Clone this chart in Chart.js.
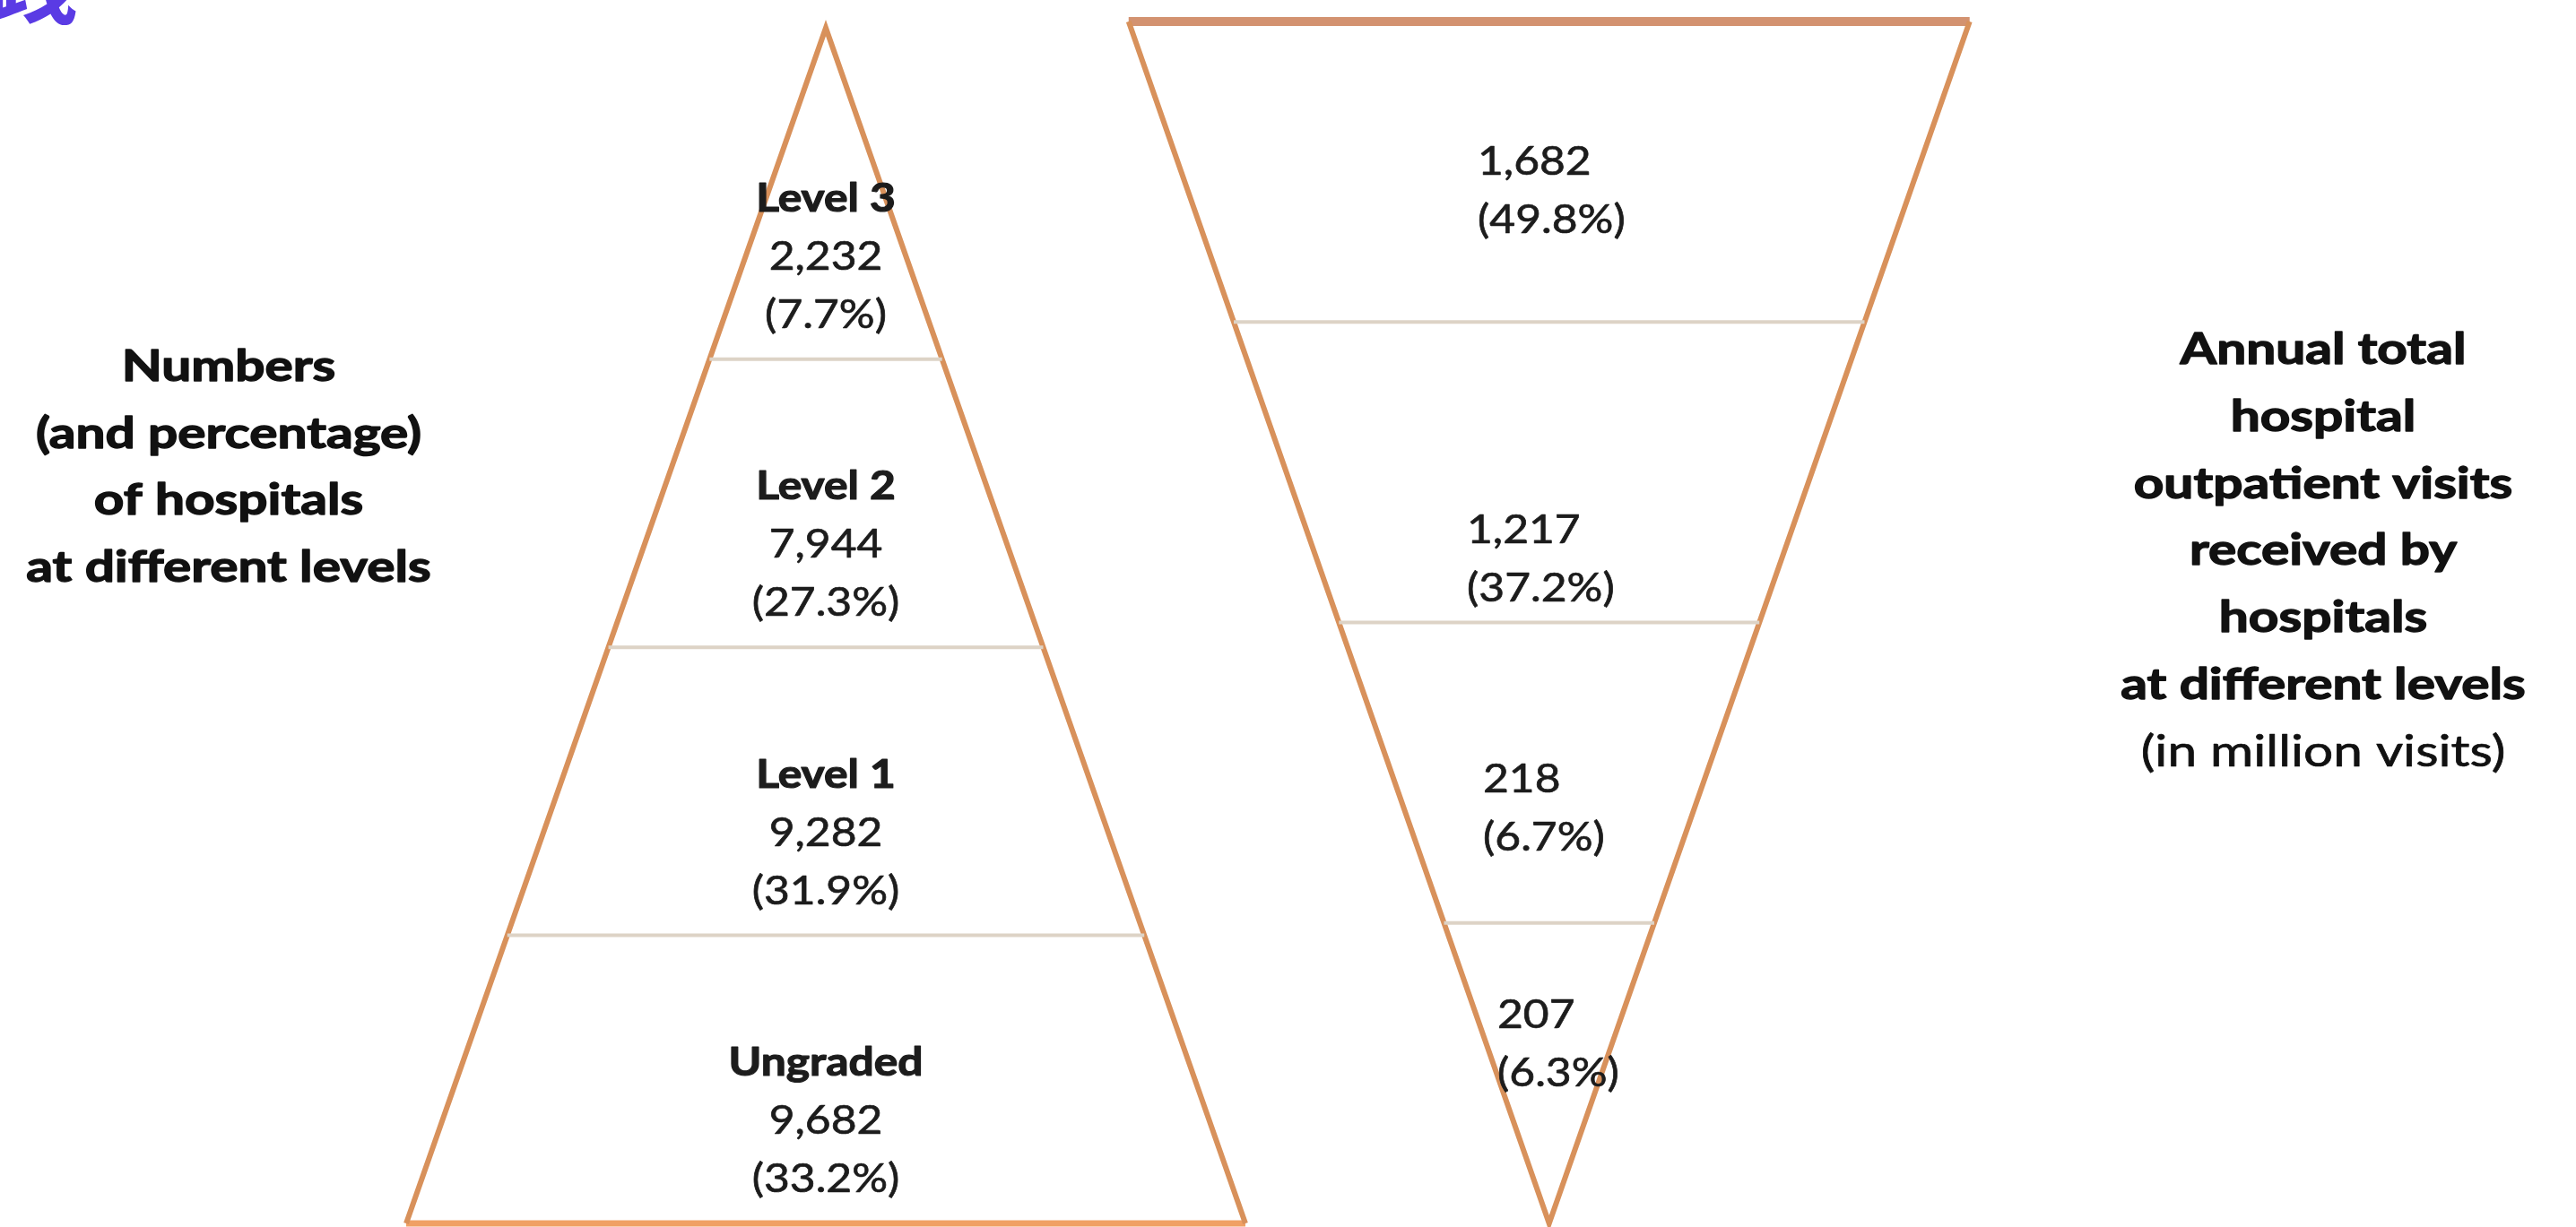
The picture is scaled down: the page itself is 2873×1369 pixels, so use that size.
<!DOCTYPE html>
<html>
<head>
<meta charset="utf-8">
<script src="https://cdn.jsdelivr.net/npm/chart.js@4.4.1/dist/chart.umd.min.js"></script>
<style>
  html, body { margin: 0; padding: 0; background: #ffffff; overflow: hidden; }
  #wrap { width: 2873px; height: 1369px; position: relative; }
</style>
</head>
<body>
<div id="wrap"><canvas id="pyramids" width="2873" height="1369"></canvas></div>
<script>
// Hospital tiers, listed from the top band of each pyramid downwards
const hospitalLevels = ['Level 3', 'Level 2', 'Level 1', 'Ungraded'];
const hospitalCounts = [2232, 7944, 9282, 9682];
const hospitalShares = [7.7, 27.3, 31.9, 33.2];

// Annual outpatient visits (million) for the same tiers, widest band first
const visitCounts = [1682, 1217, 218, 207];
const visitShares = [49.8, 37.2, 6.7, 6.3];

// Side captions
const leftCaption = ['Numbers', '(and percentage)', 'of hospitals', 'at different levels'];
const rightCaption = ['Annual total', 'hospital', 'outpatient visits', 'received by', 'hospitals', 'at different levels'];
const rightCaptionNote = '(in million visits)';
const cornerGlyph = '践';

// ---- geometry helpers (shape of the two triangles) ----
const N = hospitalLevels.length;
const APEX_UP = N + 0.15;      // tip of the hospital pyramid rises a little above the top band
const APEX_DOWN = N;           // tip of the visits funnel

// Hand placement of the funnel's text boxes, in pixels from the band centre
const funnelLabelNudge = [
  { dx: 0, dy: 20 },
  { dx: -12, dy: 96 },
  { dx: 6, dy: 38 },
  { dx: 22, dy: -34 }
];

const fmt = v => v.toLocaleString('en-US');
const pct = v => '(' + v.toFixed(1) + '%)';

function seg(points, axisX, axisY, color, width) {
  return {
    data: points, xAxisID: axisX, yAxisID: axisY,
    borderColor: color, borderWidth: width,
    pointRadius: 0, pointHoverRadius: 0, fill: false, tension: 0,
    borderJoinStyle: 'miter', borderCapStyle: 'butt', clip: false
  };
}

const DIVIDER = '#ddd3c6';
const EDGE = '#d8915b';
const datasets = [];

// Band dividers of the hospital pyramid (half width shrinks towards the tip)
for (let k = 1; k < N; k++) {
  const hw = 1 - k / APEX_UP;
  datasets.push(seg([{x: -hw, y: k}, {x: hw, y: k}], 'xL', 'yL', DIVIDER, 4));
}
// Band dividers of the visits funnel
for (let k = 1; k < N; k++) {
  const hw = 1 - k / APEX_DOWN;
  datasets.push(seg([{x: -hw, y: k}, {x: hw, y: k}], 'xR', 'yR', DIVIDER, 4));
}
// Outlines
datasets.push(seg([{x: -1, y: 0}, {x: 0, y: APEX_UP}, {x: 1, y: 0}], 'xL', 'yL', EDGE, 6));
datasets.push(seg([{x: -1, y: 0}, {x: 1, y: 0}], 'xL', 'yL', '#f0a064', 7));
datasets.push(seg([{x: -1, y: 0}, {x: 0, y: APEX_DOWN}, {x: 1, y: 0}], 'xR', 'yR', EDGE, 6));
datasets.push(seg([{x: -1, y: 0}, {x: 1, y: 0}], 'xR', 'yR', '#d39270', 10));

// ---- text drawing ----
const FONT = 'Lato, "Open Sans", sans-serif';
const CAPTION_STRETCH = 1.22;
const LABEL_STRETCH = 1.13;
const LABEL_LINE = 65;
function drawText(ctx, str, x, y, font, align, stretch, weightBoost) {
  ctx.save();
  ctx.font = font;
  ctx.translate(x, y);
  ctx.scale(stretch, 1);
  ctx.textAlign = align;
  ctx.textBaseline = 'alphabetic';
  ctx.fillText(str, 0, 0);
  if (weightBoost) {
    ctx.strokeStyle = ctx.fillStyle;
    ctx.lineWidth = weightBoost;
    ctx.lineJoin = 'round';
    ctx.strokeText(str, 0, 0);
  }
  ctx.restore();
}

const textPlugin = {
  id: 'pyramidText',
  afterDatasetsDraw(chart) {
    const ctx = chart.ctx;
    const {xL, yL, xR, yR} = chart.scales;

    // Labels inside the hospital pyramid
    ctx.fillStyle = '#1c1c1c';
    const cxL = xL.getPixelForValue(0);
    hospitalLevels.forEach((name, i) => {
      const c = yL.getPixelForValue(N - 1 - i + 0.5) + 45;
      drawText(ctx, name, cxL, c - LABEL_LINE + 16, 'bold 44px ' + FONT, 'center', LABEL_STRETCH, 1.2);
      drawText(ctx, fmt(hospitalCounts[i]), cxL, c + 16, '44px ' + FONT, 'center', LABEL_STRETCH, 0.7);
      drawText(ctx, pct(hospitalShares[i]), cxL, c + LABEL_LINE + 16, '44px ' + FONT, 'center', LABEL_STRETCH, 0.7);
    });

    // Labels inside the visits funnel
    const sx = xR.getPixelForValue(-0.17);
    visitCounts.forEach((v, i) => {
      const n = funnelLabelNudge[i];
      const c = yR.getPixelForValue(i + 0.5) + n.dy;
      drawText(ctx, fmt(v), sx + n.dx, c - LABEL_LINE / 2 + 16, '44px ' + FONT, 'left', LABEL_STRETCH, 0.7);
      drawText(ctx, pct(visitShares[i]), sx + n.dx, c + LABEL_LINE / 2 + 16, '44px ' + FONT, 'left', LABEL_STRETCH, 0.7);
    });

    // Side captions
    ctx.fillStyle = '#111111';
    leftCaption.forEach((line, i) => {
      drawText(ctx, line, 255, 425 + i * 74.5, 'bold 48px ' + FONT, 'center', CAPTION_STRETCH, 1.4);
    });
    rightCaption.forEach((line, i) => {
      drawText(ctx, line, 2591, 406 + i * 74.8, 'bold 48px ' + FONT, 'center', CAPTION_STRETCH, 1.4);
    });
    drawText(ctx, rightCaptionNote, 2591, 406 + rightCaption.length * 74.8, '48px ' + FONT, 'center', CAPTION_STRETCH, 0.7);

    // Corner glyph, partly outside the canvas
    ctx.fillStyle = '#5a3be4';
    drawText(ctx, cornerGlyph, -13, 19, 'bold 100px "Noto Sans CJK SC"', 'left', 1, 0);
  }
};

new Chart(document.getElementById('pyramids'), {
  type: 'line',
  data: { datasets },
  options: {
    responsive: false,
    animation: false,
    devicePixelRatio: 1,
    layout: { padding: 0 },
    events: [],
    plugins: { legend: { display: false }, title: { display: false }, tooltip: { enabled: false } },
    scales: {
      xL: { type: 'linear', display: false, min: -1.968, max: 4.171 },
      yL: { type: 'linear', display: false, min: -0.0124, max: 4.247 },
      xR: { type: 'linear', display: false, min: -3.684, max: 2.442 },
      yR: { type: 'linear', display: false, reverse: true, min: -0.0716, max: 4.012 }
    }
  },
  plugins: [textPlugin]
});
</script>
</body>
</html>
